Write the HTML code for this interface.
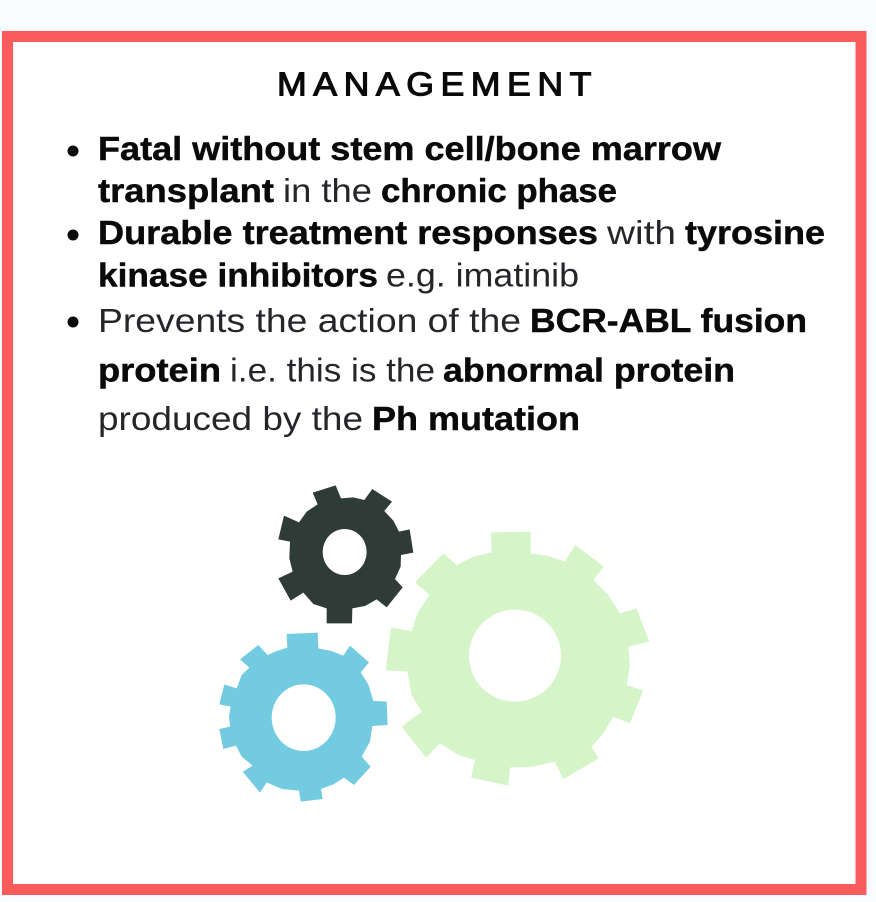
<!DOCTYPE html>
<html lang="en">
<head>
<meta charset="utf-8">
<title>Management</title>
<style>
html,body{margin:0;padding:0;background:#f9fcff;width:876px;height:902px;overflow:hidden}
svg{display:block}
text{font-family:"Liberation Sans",sans-serif;font-size:33px;fill:#0a0a0c}
.b{font-weight:700;stroke:#0a0a0c;stroke-width:.45}
.l{font-weight:400;fill:#26262a}
</style>
</head>
<body>
<svg width="876" height="902" viewBox="0 0 876 902" xmlns="http://www.w3.org/2000/svg">
<rect x="7.5" y="36.5" width="853.5" height="853" fill="#fff" stroke="#fa5c5c" stroke-width="11"/>

<text x="277" y="95.5" textLength="321" lengthAdjust="spacingAndGlyphs" style="font-weight:400;font-size:33px;letter-spacing:6px;stroke:#0a0a0c;stroke-width:1.1">MANAGEMENT</text>

<circle cx="73" cy="151" r="5.5" fill="#0a0a0c"/>
<circle cx="73" cy="235" r="5.5" fill="#0a0a0c"/>
<circle cx="73" cy="322" r="5.5" fill="#0a0a0c"/>

<text class="b" x="98" y="160" textLength="623" lengthAdjust="spacingAndGlyphs">Fatal without stem cell/bone marrow</text>

<text class="b" x="98" y="202" textLength="176" lengthAdjust="spacingAndGlyphs">transplant</text>
<text class="l" x="283" y="202" textLength="89" lengthAdjust="spacingAndGlyphs">in the</text>
<text class="b" x="381" y="202" textLength="236" lengthAdjust="spacingAndGlyphs">chronic phase</text>

<text class="b" x="98" y="244" textLength="500" lengthAdjust="spacingAndGlyphs">Durable treatment responses</text>
<text class="l" x="607" y="244" textLength="69" lengthAdjust="spacingAndGlyphs">with</text>
<text class="b" x="685" y="244" textLength="140" lengthAdjust="spacingAndGlyphs">tyrosine</text>

<text class="b" x="98" y="286.5" textLength="280" lengthAdjust="spacingAndGlyphs">kinase inhibitors</text>
<text class="l" x="386" y="286.5" textLength="193" lengthAdjust="spacingAndGlyphs">e.g. imatinib</text>

<text class="l" x="98" y="332" textLength="423" lengthAdjust="spacingAndGlyphs">Prevents the action of the</text>
<text class="b" x="530" y="332" textLength="277" lengthAdjust="spacingAndGlyphs">BCR-ABL fusion</text>

<text class="b" x="98" y="381.5" textLength="123" lengthAdjust="spacingAndGlyphs">protein</text>
<text class="l" x="230" y="381.5" textLength="205" lengthAdjust="spacingAndGlyphs">i.e. this is the</text>
<text class="b" x="443" y="381.5" textLength="292" lengthAdjust="spacingAndGlyphs">abnormal protein</text>

<text class="l" x="98" y="430" textLength="265" lengthAdjust="spacingAndGlyphs">produced by the</text>
<text class="b" x="372" y="430" textLength="208" lengthAdjust="spacingAndGlyphs">Ph mutation</text>

<!-- green gear -->
<g transform="translate(380 525) scale(.33333)">
  <polygon fill="#d5f5c8" points="333,22 452,20 452,85 505,93 555,110 585,60 672,125 640,165 685,210 720,265 770,250 808,350 745,365 750,420 740,480 790,497 750,595 700,575 670,625 635,665 655,700 550,763 525,710 460,725 390,728 385,782 273,758 285,705 235,690 180,655 138,698 65,605 125,560 95,510 82,440 17,436 33,308 95,318 112,265 148,210 105,172 190,85 230,120 280,95 335,82"/>
  <circle cx="405" cy="392" r="138" fill="#fff"/>
</g>

<!-- dark gear -->
<g transform="translate(270 480) scale(.33333)">
  <polygon fill="#2f3b36" points="128,38 197,16 213,55 250,52 283,60 307,27 366,65 343,93 370,122 387,155 419,148 430,218 393,225 392,260 375,297 398,322 350,382 320,358 285,378 247,385 246,430 170,430 170,385 130,372 100,338 62,362 25,295 68,275 58,235 60,185 25,178 42,107 87,127 110,95 143,73"/>
  <ellipse cx="224" cy="216" rx="66" ry="69" fill="#fff"/>
</g>

<!-- blue gear -->
<g transform="translate(210 625) scale(.33333)">
  <polygon fill="#72cbe0" points="230,27 323,23 325,70 365,78 400,92 420,62 477,112 452,142 475,178 490,228 530,230 533,300 487,303 480,350 455,395 482,425 432,480 402,458 370,478 333,492 338,522 272,530 267,497 215,492 170,472 150,503 98,440 128,422 95,395 78,362 40,372 28,312 60,305 57,275 62,245 28,238 43,178 80,190 95,150 118,128 90,103 145,60 173,90 200,78 232,68"/>
  <ellipse cx="281" cy="278" rx="96" ry="100" fill="#fff"/>
</g>
</svg>
</body>
</html>
